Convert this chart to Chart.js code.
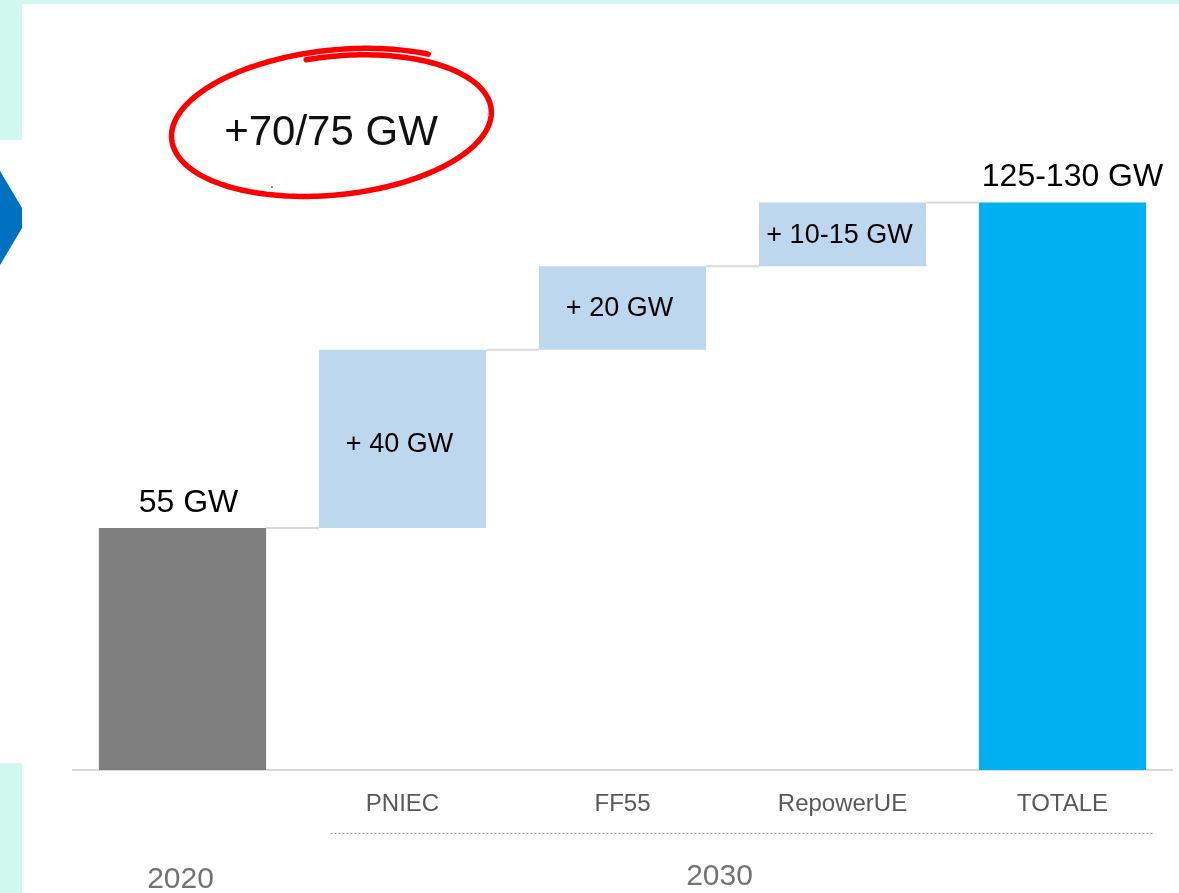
<!DOCTYPE html>
<html><head><meta charset="utf-8">
<script src="https://cdn.jsdelivr.net/npm/chart.js@4.4.1/dist/chart.umd.min.js"></script>
<style>
html,body{margin:0;padding:0;}
body{width:1179px;height:893px;background:#d1f8ef;position:relative;overflow:hidden;}
#arrow{position:absolute;left:0;top:171px;width:28px;height:94px;background:#0070c0;clip-path:polygon(0 0,100% 50%,0 100%);}
#panel{position:absolute;left:22px;top:4px;width:1157px;height:889px;background:#fff;}
#strip{position:absolute;left:0;top:140px;width:22px;height:623px;background:#fff;}
#wrap{position:absolute;left:0;top:0;width:1179px;height:893px;}
</style></head>
<body>
<div id="strip"></div>
<div id="arrow"></div>
<div id="panel"></div>
<div id="wrap"><canvas id="c" width="1179" height="893"></canvas></div>
<script>
const categories = ['2020', 'PNIEC', 'FF55', 'RepowerUE', 'TOTALE'];
const tickLabels = ['', 'PNIEC', 'FF55', 'RepowerUE', 'TOTALE'];
const startValue = 55;
const increments = [40.5, 19, 14.5];
const totalValue = 129;
const valueLabels = ['55 GW', '+ 40 GW', '+ 20 GW', '+ 10-15 GW', '125-130 GW'];
const groupLabels = ['2020', '2030'];
const calloutText = '+70/75 GW';
const barColors = ['#7f7f7f', '#bdd7ee', '#bdd7ee', '#bdd7ee', '#00b0f0'];

const ranges = [[0, startValue]];
let cum = startValue;
increments.forEach(v => { ranges.push([cum, cum + v]); cum += v; });
ranges.push([0, totalValue]);

const FONT = "'Liberation Sans', Arial, sans-serif";

const decor = {
  id: 'decor',
  afterDatasetsDraw(chart) {
    const ctx = chart.ctx;
    const meta = chart.getDatasetMeta(0);
    const x = chart.scales.x, y = chart.scales.y;
    ctx.save();
    // connectors
    ctx.strokeStyle = '#d9d9d9';
    ctx.lineWidth = 2;
    for (let i = 0; i < meta.data.length - 1; i++) {
      const a = meta.data[i], b = meta.data[i + 1];
      const yy = y.getPixelForValue(ranges[i][1]);
      ctx.beginPath();
      ctx.moveTo(a.x + a.width / 2, yy);
      ctx.lineTo(b.x - b.width / 2, yy);
      ctx.stroke();
    }
    // value labels
    ctx.fillStyle = '#000';
    ctx.textAlign = 'center';
    meta.data.forEach((el, i) => {
      const outside = (i === 0 || i === meta.data.length - 1);
      if (outside) {
        ctx.font = '32px ' + FONT;
        ctx.textBaseline = 'alphabetic';
        ctx.fillText(valueLabels[i], el.x + (i === 0 ? 6 : 10), y.getPixelForValue(ranges[i][1]) - 16);
      } else {
        ctx.font = '27px ' + FONT;
        ctx.textBaseline = 'middle';
        const mid = (y.getPixelForValue(ranges[i][0]) + y.getPixelForValue(ranges[i][1])) / 2;
        ctx.fillText(valueLabels[i], el.x - 3, mid + (i === 1 ? 6 : 1));
      }
    });
    // dotted group line
    ctx.strokeStyle = '#9a9a9a';
    ctx.lineWidth = 1;
    ctx.setLineDash([2, 2]);
    ctx.beginPath();
    ctx.moveTo(x.getPixelForTick(1) - 72, 833.5);
    ctx.lineTo(x.getPixelForTick(4) + 90, 833.5);
    ctx.stroke();
    ctx.setLineDash([]);
    // group labels
    ctx.fillStyle = '#737373';
    ctx.font = '30px ' + FONT;
    ctx.textBaseline = 'middle';
    ctx.fillText(groupLabels[0], x.getPixelForTick(0) - 2, 880);
    const mid2030 = (x.getPixelForTick(1) + x.getPixelForTick(4)) / 2 - 13;
    ctx.fillText(groupLabels[1], mid2030, 877);
    // callout
    ctx.fillStyle = '#111';
    ctx.font = '42px ' + FONT;
    ctx.fillText(calloutText, 331, 133);
    // hand-drawn red ellipse
    const cx = 335, cy = 124, rx = 161, ry = 71, rot = -0.1;
    const t0 = -0.94, sweep = 7.06, n = 240;
    ctx.strokeStyle = '#ff0000';
    ctx.lineWidth = 5.5;
    ctx.lineCap = 'round';
    ctx.lineJoin = 'round';
    ctx.beginPath();
    for (let k = 0; k <= n; k++) {
      const f = k / n;
      const t = t0 - sweep * f;
      const s = 1.05 - 0.1 * f;
      const px = rx * s * Math.cos(t), py = ry * s * Math.sin(t);
      const X = cx + px * Math.cos(rot) - py * Math.sin(rot);
      const Y = cy + px * Math.sin(rot) + py * Math.cos(rot);
      if (k === 0) ctx.moveTo(X, Y); else ctx.lineTo(X, Y);
    }
    ctx.stroke();
    ctx.fillStyle = '#ff6060';
    ctx.fillRect(271, 186, 2, 2);
    ctx.restore();
  }
};

new Chart(document.getElementById('c'), {
  type: 'bar',
  data: {
    labels: categories,
    datasets: [{
      data: ranges,
      backgroundColor: barColors,
      borderWidth: 0,
      barPercentage: 0.76,
      categoryPercentage: 1
    }]
  },
  options: {
    responsive: false,
    animation: false,
    devicePixelRatio: 1,
    layout: { padding: { left: 72.5, right: 6.5, top: 110, bottom: 0 } },
    plugins: { legend: { display: false }, tooltip: { enabled: false } },
    scales: {
      x: {
        grid: { display: false, drawTicks: false },
        border: { display: true, color: '#d9d9d9', width: 2 },
        ticks: {
          callback: (v, i) => tickLabels[i],
          color: '#595959',
          font: { family: FONT, size: 24 },
          padding: 20,
          maxRotation: 0,
          autoSkip: false
        },
        afterFit(s) { s.height = 123; }
      },
      y: { display: false, min: 0, max: 150 }
    }
  },
  plugins: [decor]
});
</script>
</body></html>
